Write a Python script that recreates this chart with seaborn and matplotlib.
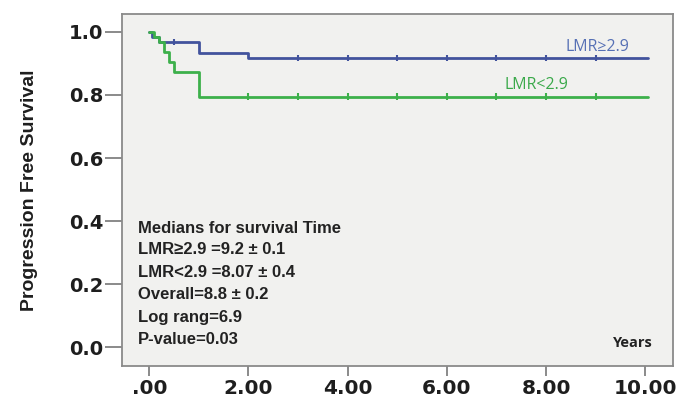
import matplotlib
matplotlib.use("Agg")
import matplotlib.pyplot as plt
import seaborn as sns
import pandas as pd

# Kaplan-Meier step curves (time in years, survival probability)
high_times = [0.0, 0.05, 0.2, 1.0, 2.0, 10.05]
high_surv = [1.0, 0.985, 0.968, 0.933, 0.917, 0.917]
high_censor = [0.5, 3.0, 4.0, 5.0, 6.0, 7.0, 8.0, 9.0]

low_times = [0.0, 0.1, 0.2, 0.3, 0.4, 0.5, 1.0, 10.05]
low_surv = [1.0, 0.985, 0.968, 0.937, 0.905, 0.873, 0.795, 0.795]
low_censor = [2.0, 3.0, 4.0, 5.0, 6.0, 7.0, 8.0, 9.0]

group_labels = ["LMR\u22652.9", "LMR<2.9"]
xtick_values = [0, 2, 4, 6, 8, 10]
xtick_labels = [".00", "2.00", "4.00", "6.00", "8.00", "10.00"]
ytick_values = [0.0, 0.2, 0.4, 0.6, 0.8, 1.0]
ytick_labels = ["0.0", "0.2", "0.4", "0.6", "0.8", "1.0"]

summary_title = "Medians for survival Time"
summary_lines = [
    "LMR\u22652.9 =9.2 \u00b1 0.1",
    "LMR<2.9 =8.07 \u00b1 0.4",
    "Overall=8.8 \u00b1 0.2",
    "Log rang=6.9",
    "P-value=0.03",
]

blue = "#42539d"
green = "#3db04b"

sns.set_theme(style="white")
plt.rcParams["font.family"] = ["Liberation Sans", "DejaVu Sans"]

fig = plt.figure(figsize=(6.86, 3.99), dpi=100)
fig.patch.set_facecolor("white")
ax = fig.add_axes([122 / 686, 1 - 366 / 399, 551 / 686, 352 / 399])
ax.set_facecolor("#f1f1ef")

curves = pd.concat([
    pd.DataFrame({"t": high_times, "s": high_surv, "g": group_labels[0]}),
    pd.DataFrame({"t": low_times, "s": low_surv, "g": group_labels[1]}),
])
palette = {group_labels[0]: blue, group_labels[1]: green}

sns.lineplot(data=curves, x="t", y="s", hue="g", palette=palette,
             drawstyle="steps-post", linewidth=2.0, legend=False, ax=ax,
             estimator=None, sort=False)

# censoring marks sit on the step at their time
def surv_at(times, surv, t):
    val = surv[0]
    for ti, si in zip(times, surv):
        if ti <= t:
            val = si
    return val

cens = pd.concat([
    pd.DataFrame({"t": high_censor,
                  "s": [surv_at(high_times, high_surv, c) for c in high_censor],
                  "g": group_labels[0]}),
    pd.DataFrame({"t": low_censor,
                  "s": [surv_at(low_times, low_surv, c) for c in low_censor],
                  "g": group_labels[1]}),
])
sns.scatterplot(data=cens, x="t", y="s", hue="g", palette=palette,
                marker="|", s=22, linewidth=1.5, legend=False, ax=ax)

ax.set_xlim(-0.55, 10.56)
ax.set_ylim(-0.06, 1.057)
ax.set_xticks(xtick_values)
ax.set_xticklabels(xtick_labels, fontfamily="DejaVu Sans", fontweight="bold",
                   fontsize=14.5, color="#1e1e1e")
ax.set_yticks(ytick_values)
ax.set_yticklabels(ytick_labels, fontfamily="DejaVu Sans", fontweight="bold",
                   fontsize=14, color="#1e1e1e")
ax.tick_params(axis="y", direction="out", length=12, width=1.2, color="#777777", pad=1.5, left=True)
ax.tick_params(axis="x", direction="out", length=7, width=1.2, color="#777777", pad=2, bottom=True)

for sp in ax.spines.values():
    sp.set_color("#8a8a8a")
    sp.set_linewidth(1.3)

ax.set_xlabel("")
ax.set_ylabel("Progression Free Survival",
              fontfamily=["Liberation Sans Narrow", "Liberation Sans"],
              fontweight="bold", fontsize=14, color="#1e1e1e", labelpad=22)

# curve labels
ax.text(9.03, 0.952, group_labels[0], color="#5670b5", fontsize=11.5,
        fontfamily="Open Sans", ha="center", va="center")
ax.text(7.8, 0.832, group_labels[1], color="#3aa94a", fontsize=11.5,
        fontfamily="Open Sans", ha="center", va="center")

# summary statistics block
ax.text(0.029, 0.392, summary_title, transform=ax.transAxes, fontsize=12,
        fontweight="bold", color="#222222", va="center", ha="left")
for i, line in enumerate(summary_lines):
    ax.text(0.029, 0.330 - i * 0.0637, line, transform=ax.transAxes,
            fontsize=12, fontweight="bold", color="#222222",
            fontfamily=["Liberation Sans", "DejaVu Sans"], va="center", ha="left")

ax.text(0.927, 0.065, "Years", transform=ax.transAxes, fontsize=10.5,
        fontweight="bold", fontfamily="Open Sans", color="#222222",
        ha="center", va="center")

fig.savefig("out.png", dpi=100, facecolor="white")
